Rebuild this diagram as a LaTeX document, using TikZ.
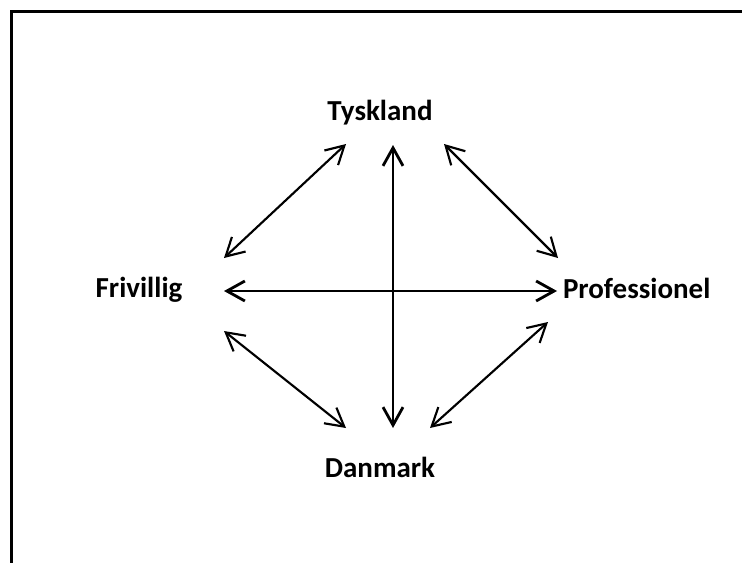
\documentclass[tikz,border=0pt]{standalone}
\usepackage{fontspec}
\setmainfont{Carlito}
\usetikzlibrary{arrows.meta}

\begin{document}
\begin{tikzpicture}[
        x=0.75pt,y=0.75pt,
        label/.style={font=\fontsize{21.75}{26}\selectfont\bfseries,anchor=base,inner sep=0pt},
        arrow/.style={{Straight Barb[length=13.5pt,width=15pt]}-{Straight Barb[length=13.5pt,width=15pt]},line width=1.6pt},
        mainarrow/.style={arrow,line width=2.1pt},
        frame/.style={line width=1.6pt}
      ]
        \useasboundingbox (0,0) rectangle (742,562);
        \draw[frame] (11.5,-10) -- (11.5,550.5) -- (750,550.5);
        % the four labels
        \node[label] (tysk) at (380,442) {Tyskland};
        \node[label] (friv) at (139,264.7) {Frivillig};
        \node[label] (prof) at (636.7,263.7) {Professionel};
        \node[label] (danm) at (380,84.7) {Danmark};
        % arrow ends
        \coordinate (vtop) at (393,417);
        \coordinate (vbot) at (393,134);
        \coordinate (hleft) at (224,271);
        \coordinate (hright) at (557,271);
        \coordinate (tl1) at (346,418);
        \coordinate (tl2) at (224,304);
        \coordinate (tr1) at (444,418);
        \coordinate (tr2) at (558,304);
        \coordinate (bl1) at (224,231);
        \coordinate (bl2) at (346,134);
        \coordinate (br1) at (548,240);
        \coordinate (br2) at (430,134);
        \draw[mainarrow] (vtop) -- (vbot);
        \draw[mainarrow] (hleft) -- (hright);
        \draw[arrow] (tl1) -- (tl2);
        \draw[arrow] (tr1) -- (tr2);
        \draw[arrow] (bl1) -- (bl2);
        \draw[arrow] (br1) -- (br2);
      \end{tikzpicture}
\end{document}
